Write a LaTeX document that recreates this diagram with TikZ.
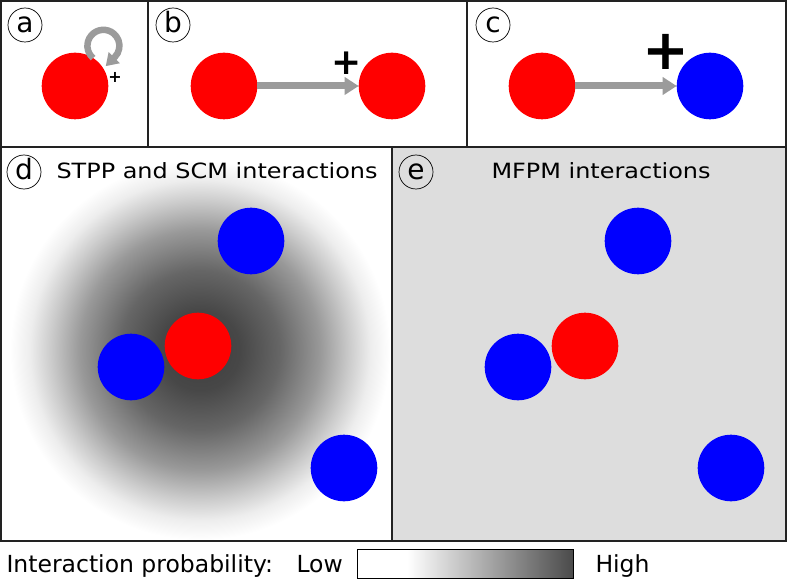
\documentclass[tikz,border=0pt]{standalone}
\usepackage{fontspec}
\setmainfont{DejaVu Sans}
\newfontfamily\widefont[FakeStretch=1.14]{DejaVu Sans}
\usetikzlibrary{arrows.meta}
\definecolor{arrgray}{RGB}{155,155,155}
\definecolor{panelgray}{RGB}{221,221,221}
\definecolor{framecol}{RGB}{34,34,34}
\pgfdeclareradialshading{blob}{\pgfpoint{0bp}{0bp}}{color(0bp)=(black!76); color(5.3bp)=(black!72); color(10.5bp)=(black!60); color(15.8bp)=(black!40); color(19.7bp)=(black!20); color(22.4bp)=(black!7); color(25bp)=(white); color(50bp)=(white)}
\pgfdeclarehorizontalshading{probbar}{100bp}{color(0bp)=(white); color(36.5bp)=(white); color(75bp)=(black!71); color(100bp)=(black!71)}
\begin{document}
\begin{tikzpicture}[x=1pt,y=-1pt,
  frame/.style={draw=framecol, line width=1.6pt},
  dot/.style={circle, minimum size=66.6pt, inner sep=0pt, outer sep=0pt},
  rdot/.style={dot, fill=red},
  bdot/.style={dot, fill=blue},
  tag/.style={circle, draw=black, line width=0.7pt, minimum size=34pt, inner sep=0pt, font=\fontsize{28}{28}\selectfont, text height=16pt, text depth=0pt},
  link/.style={draw=arrgray, line width=7pt, -{Triangle[length=14pt,width=17pt]}},
  loopy/.style={draw=arrgray, line width=6.5pt, -{Triangle[length=12pt,width=15pt]}},
  plus/.style={inner sep=0pt, font=\bfseries\fontsize{#1}{#1}\selectfont},
  title/.style={anchor=base west, font=\widefont\fontsize{21}{25}\selectfont},
  legend/.style={anchor=base west, font=\fontsize{23.5}{27}\selectfont}]
\useasboundingbox (0,0) rectangle (787,580);
\fill[white] (0,0) rectangle (787,580);
\fill[panelgray] (392,147) rectangle (786,541);
\begin{scope}
  \clip (1,147) rectangle (392,541);
  \shade[shading=blob] (200,350) circle[radius=190];
\end{scope}
% frames
\draw[frame] (1,1) rectangle (148,147);
\draw[frame] (148,1) rectangle (467,147);
\draw[frame] (467,1) rectangle (786,147);
\draw[frame] (1,147) rectangle (392,541);
\draw[frame] (392,147) rectangle (786,541);
% panel a
\node[rdot] (a1) at (75,86) {};
\draw[loopy] (a1.57) arc[start angle=130, end angle=405, radius=16] -- ++(-9,9);
\node[plus=16] (pa) at (115,77) {+};
% panel b
\node[rdot] (b1) at (224,86) {};
\node[rdot] (b2) at (392,86) {};
\draw[link] (b1) -- (b2);
\node[plus=36] (pb) at (347,63) {+};
% panel c
\node[rdot] (c1) at (542,86) {};
\node[bdot] (c2) at (710,86) {};
\draw[link] (c1) -- (c2);
\node[plus=56] (pc) at (666,52) {+};
% tags
\node[tag] (ta) at (25,25) {a};
\node[tag] (tb) at (173,25) {b};
\node[tag] (tc) at (493,25) {c};
\node[tag] (td) at (24,172) {d};
\node[tag] (te) at (416,172) {e};
% titles
\node[title] (hd) at (53,179) {STPP and SCM interactions};
\node[title] (he) at (488,179) {MFPM interactions};
% panel d
\node[bdot] (d1) at (251,241) {};
\node[rdot] (d2) at (198,346) {};
\node[bdot] (d3) at (131,367) {};
\node[bdot] (d4) at (344,468) {};
% panel e
\node[bdot] (e1) at (638,241) {};
\node[rdot] (e2) at (585,346) {};
\node[bdot] (e3) at (518,367) {};
\node[bdot] (e4) at (731,468) {};
% legend
\node[legend] (l1) at (3,572) {Interaction probability:};
\node[legend] (l2) at (293,572) {Low};
\node[shade, shading=probbar, draw=black, line width=0.8pt, minimum width=216pt, minimum height=29pt, anchor=north west, inner sep=0pt] (bar) at (357,549) {};
\node[legend] (l3) at (592,572) {High};
\end{tikzpicture}
\end{document}
